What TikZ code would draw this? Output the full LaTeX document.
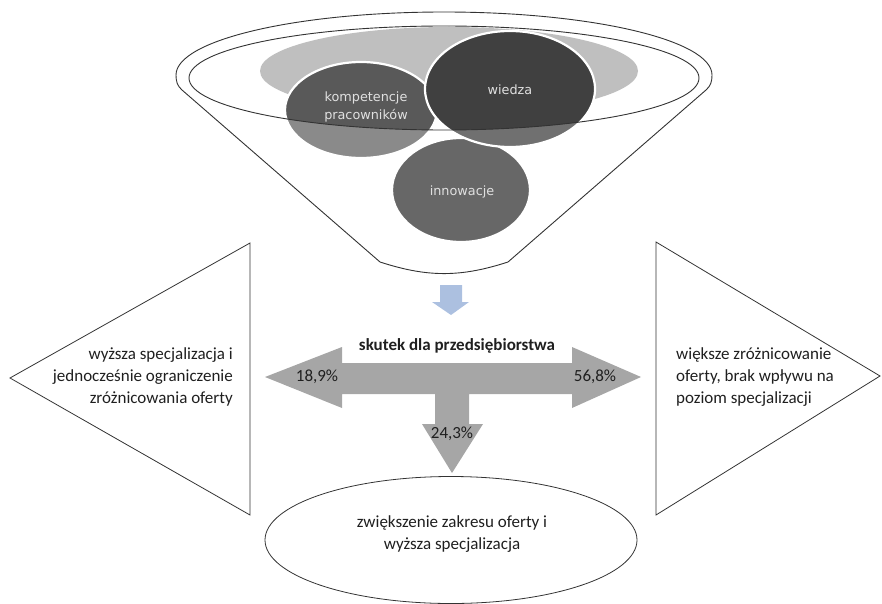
\documentclass[tikz,border=0pt]{standalone}
\usepackage{fontspec}
\setmainfont{Carlito}
\newfontfamily\bubblefont{DejaVu Sans}
\usetikzlibrary{shapes.geometric,positioning}
\definecolor{rimgray}{RGB}{191,191,191}
\definecolor{kompdark}{RGB}{89,89,89}
\definecolor{komplight}{RGB}{138,138,138}
\definecolor{wiedzadark}{RGB}{64,64,64}
\definecolor{wiedzalight}{RGB}{112,112,112}
\definecolor{innowgray}{RGB}{103,103,103}
\definecolor{arrowgray}{RGB}{166,166,166}
\definecolor{flowblue}{RGB}{172,192,224}

\begin{document}
\begin{tikzpicture}[x=1pt,y=1pt,
    outline/.style={draw=black!80, line width=0.9pt},
    bubble/.style={draw=white, line width=2.2pt},
    label/.style={font=\fontsize{17}{22}\selectfont, text=black!88, inner sep=0pt},
    bubbletext/.style={font=\bubblefont\fontsize{12.8}{18}\selectfont, text=white!88!black, align=center}
]
\useasboundingbox (0,0) rectangle (882,-604);

% Lejek
\fill[white] (182,-90) to[out=139,in=270] (176,-75)
    arc[start angle=180, end angle=0, x radius=268, y radius=63]
    to[out=270,in=41] (706,-90) -- (508,-262)
    to[out=198,in=-18] (380,-262) -- cycle;

% Czynniki (czesc pod krawedzia)
\filldraw[bubble, fill=komplight] (361,-110) ellipse [x radius=76, y radius=48];
\filldraw[bubble, fill=innowgray] (461,-190) ellipse [x radius=69, y radius=52];
\filldraw[bubble, fill=wiedzalight] (510,-89) ellipse [x radius=85, y radius=58];

% Czynniki (czesc w krawedzi)
\begin{scope}
  \clip (444,-78) ellipse [x radius=255, y radius=52];
  \fill[rimgray] (449,-71) ellipse [x radius=189, y radius=44];
  \filldraw[bubble, fill=kompdark] (361,-110) ellipse [x radius=76, y radius=48];
  \filldraw[bubble, fill=wiedzadark] (510,-89) ellipse [x radius=85, y radius=58];
\end{scope}

\draw[outline] (444,-78) ellipse [x radius=255, y radius=52];
\draw[outline] (182,-90) to[out=139,in=270] (176,-75)
    arc[start angle=180, end angle=0, x radius=268, y radius=63]
    to[out=270,in=41] (706,-90) -- (508,-262)
    to[out=198,in=-18] (380,-262) -- cycle;

\node[bubbletext] (kompetencje) at (366,-107) {kompetencje\\pracowników};
\node[bubbletext] (wiedza) at (510,-90) {wiedza};
\node[bubbletext] (innowacje) at (462,-192) {innowacje};

% Strzalka w dol
\fill[flowblue] (440,-285) -- (462,-285) -- (462,-302) -- (469,-302)
    -- (451,-315) -- (432,-302) -- (440,-302) -- cycle;

% Strzalka trojkierunkowa
\fill[arrowgray] (265,-377) -- (342,-347) -- (342,-363) -- (572,-363)
    -- (572,-347) -- (641,-377) -- (572,-408) -- (572,-394)
    -- (469,-394) -- (469,-424) -- (483,-424) -- (452,-473)
    -- (422,-424) -- (435,-424) -- (435,-394) -- (342,-394)
    -- (342,-408) -- cycle;

\node[label, font=\fontsize{17}{22}\selectfont\bfseries] (skutek) at (457,-346) {skutek dla przedsiębiorstwa};
\node[label] (lewo) at (317,-377) {18,9\%};
\node[label] (prawo) at (595,-377) {56,8\%};
\node[label] (dol) at (452,-434) {24,3\%};

% Skutki
\draw[outline, line width=0.8pt] (10,-378) -- (250,-243) -- (250,-515) -- cycle;
\node[label, anchor=east, align=right] (specjalizacja) at (233,-377)
    {wyższa specjalizacja i\\jednocześnie ograniczenie\\zróżnicowania oferty};

\draw[outline, line width=0.8pt] (656,-242) -- (880,-376) -- (656,-515) -- cycle;
\node[label, anchor=west, align=left] (zroznicowanie) at (676,-377)
    {większe zróżnicowanie\\oferty, brak wpływu na\\poziom specjalizacji};

\node[ellipse, outline, line width=0.8pt, minimum width=372pt, minimum height=127pt] (zakres) at (451,-540) {};
\node[label, align=center] (zakrestekst) at (452,-534)
    {zwiększenie zakresu oferty i\\wyższa specjalizacja};
\end{tikzpicture}
\end{document}
